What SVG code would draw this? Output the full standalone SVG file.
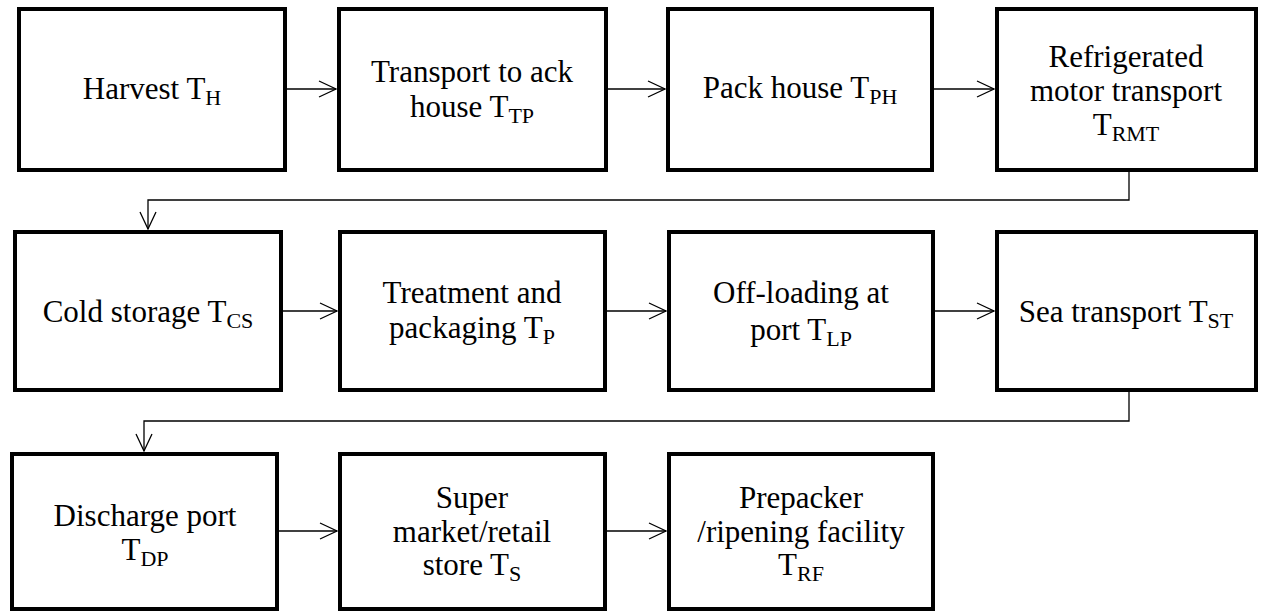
<svg xmlns="http://www.w3.org/2000/svg" width="1262" height="613" viewBox="0 0 1262 613">
<style>
.box{fill:#fff;stroke:#000;stroke-width:4}
.t{font-family:"Liberation Serif","Times New Roman",serif;font-size:31px;fill:#000;text-anchor:middle}
.sub{font-size:22px}
.c{fill:none;stroke:#000;stroke-width:1.3}
</style>
<defs>
<marker id="ah" markerUnits="userSpaceOnUse" markerWidth="20" markerHeight="20" refX="17" refY="8" orient="auto" overflow="visible">
<path d="M0,0 L17,8 L0,16" fill="none" stroke="#000" stroke-width="1.3"/>
</marker>
</defs>
<rect width="1262" height="613" fill="#fff"/>
<g id="connectors">
<line class="c" x1="287" y1="89" x2="336" y2="89" marker-end="url(#ah)"/>
<line class="c" x1="608" y1="89" x2="665" y2="89" marker-end="url(#ah)"/>
<line class="c" x1="934" y1="89" x2="994" y2="89" marker-end="url(#ah)"/>
<path class="c" d="M1129,172 V200 H148 V229" marker-end="url(#ah)"/>
<line class="c" x1="283" y1="311" x2="337" y2="311" marker-end="url(#ah)"/>
<line class="c" x1="607" y1="311" x2="666" y2="311" marker-end="url(#ah)"/>
<line class="c" x1="935" y1="311" x2="994" y2="311" marker-end="url(#ah)"/>
<path class="c" d="M1129,392 V421 H144 V451" marker-end="url(#ah)"/>
<line class="c" x1="279" y1="531" x2="337" y2="531" marker-end="url(#ah)"/>
<line class="c" x1="607" y1="531" x2="666" y2="531" marker-end="url(#ah)"/>
</g>
<g id="harvest">
<rect class="box" x="19" y="9" width="266" height="161"/>
<text class="t" x="152" y="99">Harvest T<tspan class="sub" dy="6">H</tspan></text>
</g>
<g id="transport-pack-house">
<rect class="box" x="339" y="9" width="267" height="161"/>
<text class="t" x="472" y="82">Transport to ack</text>
<text class="t" x="472" y="117">house T<tspan class="sub" dy="6">TP</tspan></text>
</g>
<g id="pack-house">
<rect class="box" x="668" y="9" width="264" height="161"/>
<text class="t" x="800" y="98">Pack house T<tspan class="sub" dy="6">PH</tspan></text>
</g>
<g id="refrigerated-transport">
<rect class="box" x="997" y="9" width="259" height="161"/>
<text class="t" x="1126" y="67">Refrigerated</text>
<text class="t" x="1126" y="101">motor transport</text>
<text class="t" x="1126" y="135">T<tspan class="sub" dy="6">RMT</tspan></text>
</g>
<g id="cold-storage">
<rect class="box" x="15" y="232" width="266" height="158"/>
<text class="t" x="148" y="322">Cold storage T<tspan class="sub" dy="6">CS</tspan></text>
</g>
<g id="treatment">
<rect class="box" x="340" y="232" width="265" height="158"/>
<text class="t" x="472" y="303">Treatment and</text>
<text class="t" x="472" y="338">packaging T<tspan class="sub" dy="6">P</tspan></text>
</g>
<g id="off-loading">
<rect class="box" x="669" y="232" width="264" height="158"/>
<text class="t" x="801" y="303">Off-loading at</text>
<text class="t" x="801" y="340">port T<tspan class="sub" dy="6">LP</tspan></text>
</g>
<g id="sea-transport">
<rect class="box" x="997" y="232" width="259" height="158"/>
<text class="t" x="1126" y="322">Sea transport T<tspan class="sub" dy="6">ST</tspan></text>
</g>
<g id="discharge-port">
<rect class="box" x="12" y="454" width="265" height="155"/>
<text class="t" x="145" y="526">Discharge port</text>
<text class="t" x="145" y="560">T<tspan class="sub" dy="6">DP</tspan></text>
</g>
<g id="supermarket">
<rect class="box" x="340" y="454" width="265" height="155"/>
<text class="t" x="472" y="508">Super</text>
<text class="t" x="472" y="542">market/retail</text>
<text class="t" x="472" y="575">store T<tspan class="sub" dy="6">S</tspan></text>
</g>
<g id="prepacker">
<rect class="box" x="669" y="454" width="264" height="155"/>
<text class="t" x="801" y="508">Prepacker</text>
<text class="t" x="801" y="542">/ripening facility</text>
<text class="t" x="801" y="575">T<tspan class="sub" dy="6">RF</tspan></text>
</g>
</svg>
